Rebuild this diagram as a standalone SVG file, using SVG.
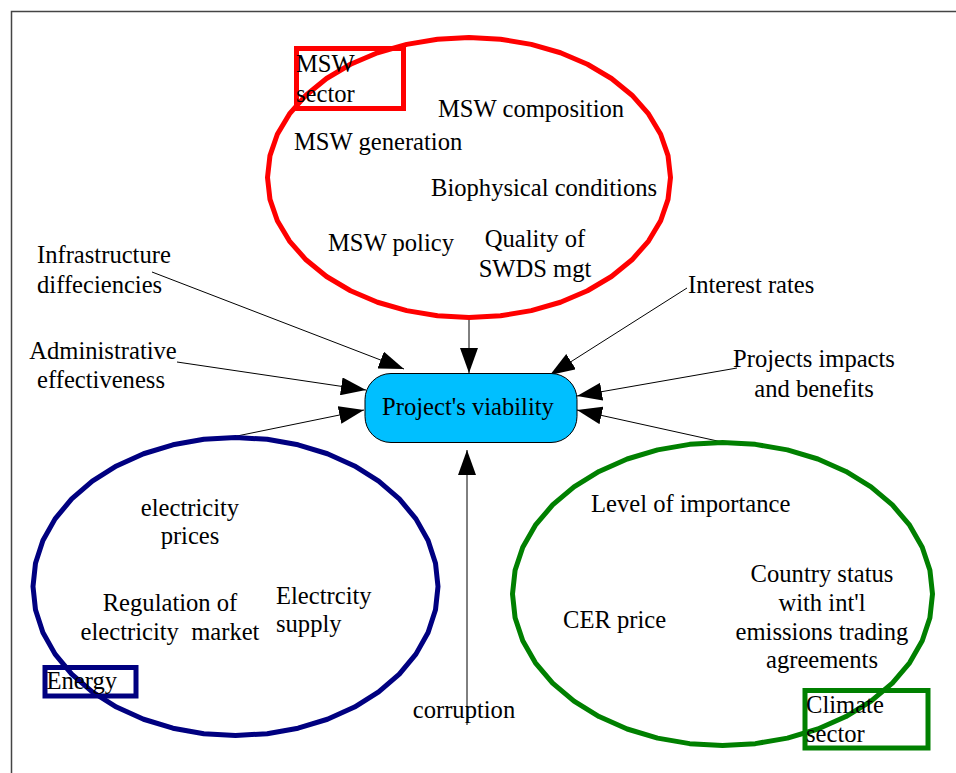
<svg xmlns="http://www.w3.org/2000/svg" xmlns:xlink="http://www.w3.org/1999/xlink" width="956" height="773" viewBox="0 0 956 773">
  <style>
    text { font-family: "Liberation Serif", "Times New Roman", serif; font-size: 24.6px; fill: #000; }
    .c { text-anchor: middle; }
    .ring { fill: none; stroke-width: 5; stroke-linejoin: round; }
    .tag { fill: none; stroke-width: 5; }
    .red { stroke: #ff0000; }
    .navy { stroke: #000080; }
    .green { stroke: #008000; }
    .link { stroke: #000; stroke-width: 1; fill: none; marker-end: url(#head); }
  </style>
  <defs>
    <!-- unit 40-gon, scaled per sector into an ellipse -->
    <polygon id="ring" vector-effect="non-scaling-stroke" points="1,0 .9877,.1564 .9511,.309 .891,.454 .809,.5878 .7071,.7071 .5878,.809 .454,.891 .309,.9511 .1564,.9877 0,1 -.1564,.9877 -.309,.9511 -.454,.891 -.5878,.809 -.7071,.7071 -.809,.5878 -.891,.454 -.9511,.309 -.9877,.1564 -1,0 -.9877,-.1564 -.9511,-.309 -.891,-.454 -.809,-.5878 -.7071,-.7071 -.5878,-.809 -.454,-.891 -.309,-.9511 -.1564,-.9877 0,-1 .1564,-.9877 .309,-.9511 .454,-.891 .5878,-.809 .7071,-.7071 .809,-.5878 .891,-.454 .9511,-.309 .9877,-.1564"/>
    <marker id="head" markerUnits="userSpaceOnUse" markerWidth="25" markerHeight="18" refX="25" refY="9" orient="auto">
      <path d="M0,0 L25,9 L0,18 Z" fill="#000"/>
    </marker>
  </defs>

  <!-- page frame -->
  <rect x="11.5" y="11.5" width="960" height="780" fill="none" stroke="#444" stroke-width="1.5"/>

  <!-- connectors -->
  <g id="connectors">
    <line class="link" x1="152" y1="272" x2="404" y2="369"/>
    <line class="link" x1="469" y1="318" x2="469" y2="373"/>
    <line class="link" x1="687" y1="288" x2="550" y2="375"/>
    <line class="link" x1="177" y1="362" x2="366" y2="390"/>
    <line class="link" x1="237" y1="436" x2="364" y2="410"/>
    <line class="link" x1="737" y1="368" x2="577" y2="396"/>
    <line class="link" x1="722" y1="442" x2="577" y2="410"/>
    <line class="link" x1="467" y1="725" x2="467" y2="450"/>
  </g>

  <!-- MSW sector -->
  <g id="msw-sector">
    <use href="#ring" xlink:href="#ring" class="ring red" transform="translate(469,177.5) scale(201.5,140)"/>
    <rect class="tag red" x="296.5" y="48.5" width="107" height="60"/>
    <text x="296" y="72">MSW</text>
    <text x="296" y="102">sector</text>
    <text x="438" y="117">MSW composition</text>
    <text x="294" y="150">MSW generation</text>
    <text x="431" y="196">Biophysical conditions</text>
    <text x="328" y="251">MSW policy</text>
    <text class="c" x="535" y="247">Quality of</text>
    <text class="c" x="535" y="277">SWDS mgt</text>
  </g>

  <!-- Energy sector -->
  <g id="energy-sector">
    <use href="#ring" xlink:href="#ring" class="ring navy" transform="translate(235.5,586.5) scale(202.5,149)"/>
    <rect class="tag navy" x="45" y="667.5" width="91" height="28.5"/>
    <text x="46.5" y="689">Energy</text>
    <text class="c" x="190" y="516">electricity</text>
    <text class="c" x="190" y="544">prices</text>
    <text class="c" x="170" y="611">Regulation of</text>
    <text class="c" x="170" y="640" xml:space="preserve">electricity  market</text>
    <text x="276" y="604">Electrcity</text>
    <text x="276" y="632">supply</text>
  </g>

  <!-- Climate sector -->
  <g id="climate-sector">
    <use href="#ring" xlink:href="#ring" class="ring green" transform="translate(722.5,594) scale(210,151.5)"/>
    <rect class="tag green" x="805" y="690.5" width="123" height="57.5"/>
    <text x="806" y="713">Climate</text>
    <text x="806" y="742">sector</text>
    <text x="591" y="512">Level of importance</text>
    <text x="563" y="628">CER price</text>
    <text class="c" x="822" y="582">Country status</text>
    <text class="c" x="822" y="611">with int'l</text>
    <text class="c" x="822" y="640">emissions trading</text>
    <text class="c" x="822" y="668">agreements</text>
  </g>

  <!-- central node -->
  <g id="project-viability">
    <rect x="365" y="373.5" width="212" height="69" rx="26" ry="26" fill="#00bfff" stroke="#000" stroke-width="1"/>
    <text class="c" x="468" y="415">Project's viability</text>
  </g>

  <!-- standalone factors -->
  <g id="infrastructure">
    <text x="37" y="263">Infrastructure</text>
    <text x="37" y="293">diffeciencies</text>
  </g>
  <g id="administrative">
    <text class="c" x="103" y="359">Administrative</text>
    <text class="c" x="101" y="388">effectiveness</text>
  </g>
  <g id="interest-rates">
    <text x="688" y="293">Interest rates</text>
  </g>
  <g id="projects-impacts">
    <text class="c" x="814" y="367">Projects impacts</text>
    <text class="c" x="814" y="397">and benefits</text>
  </g>
  <g id="corruption">
    <text class="c" x="464" y="718">corruption</text>
  </g>
</svg>
